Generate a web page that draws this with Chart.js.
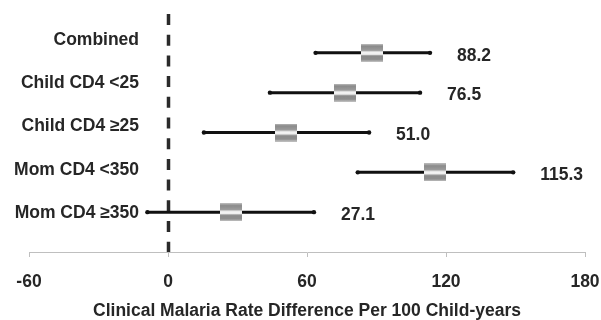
<!DOCTYPE html>
<html><head><meta charset="utf-8">
<script src="https://cdn.jsdelivr.net/npm/chart.js@4/dist/chart.umd.min.js"></script>
<style>html,body{margin:0;padding:0;background:#fff}#wrap{width:601px;height:320px}</style>
</head><body><div id="wrap"><canvas id="c" width="601" height="320"></canvas></div>
<script>
const categories = ['Combined', 'Child CD4 <25', 'Child CD4 \u226525', 'Mom CD4 <350', 'Mom CD4 \u2265350'];
const estimates = [88.2, 76.5, 51.0, 115.3, 27.1];
const lowerCI = [63.7, 44.0, 15.5, 81.9, -8.9];
const upperCI = [113.1, 108.8, 86.8, 149.0, 63.0];
const xTicks = [-60, 0, 60, 120, 180];
const xTitle = 'Clinical Malaria Rate Difference Per 100 Child-years';

const FONT = '"Liberation Sans", Arial, sans-serif';
const FSIZE = 17.5;
const TEXT = '#262626';
const n = categories.length;

function makeBox() {
  const c = document.createElement('canvas');
  c.width = 22; c.height = 18;
  const g = c.getContext('2d');
  const gr = g.createLinearGradient(0, 0, 0, 18);
  gr.addColorStop(0, '#c4c4c4');
  gr.addColorStop(0.12, '#8a8a8a');
  gr.addColorStop(0.36, '#9c9c9c');
  gr.addColorStop(0.45, '#f2f2f2');
  gr.addColorStop(0.58, '#f2f2f2');
  gr.addColorStop(0.66, '#8a8a8a');
  gr.addColorStop(0.88, '#8e8e8e');
  gr.addColorStop(1, '#c8c8c8');
  g.fillStyle = gr;
  g.fillRect(0, 0, 22, 18);
  return c;
}
const boxImg = makeBox();

const ciDatasets = categories.map((cat, i) => ({
  type: 'line',
  label: cat + ' CI',
  data: [{x: lowerCI[i], y: n - i}, {x: upperCI[i], y: n - i}],
  borderColor: '#111',
  borderWidth: 3,
  pointRadius: 2.2,
  pointBackgroundColor: '#111',
  pointBorderWidth: 0,
  showLine: true,
  order: 1
}));

const estDataset = {
  type: 'scatter',
  label: 'Estimate',
  data: estimates.map((v, i) => ({x: v, y: n - i})),
  pointStyle: boxImg,
  order: 0
};

const forestPlugin = {
  id: 'forest',
  beforeDatasetsDraw(chart) {
    const {ctx, chartArea, scales} = chart;
    const x0 = Math.round(scales.x.getPixelForValue(0)) + 0.5;
    ctx.save();
    ctx.strokeStyle = '#2a2a2a';
    ctx.lineWidth = 3.5;
    ctx.setLineDash([11, 9.7]);
    ctx.beginPath();
    ctx.moveTo(x0, chartArea.top + 1);
    ctx.lineTo(x0, chartArea.bottom);
    ctx.stroke();
    ctx.restore();
  },
  afterDatasetsDraw(chart) {
    const {ctx, scales} = chart;
    ctx.save();
    ctx.fillStyle = TEXT;
    ctx.font = 'bold ' + FSIZE + 'px ' + FONT;
    ctx.textBaseline = 'middle';
    ctx.textAlign = 'right';
    categories.forEach((cat, i) => {
      ctx.fillText(cat, scales.x.getPixelForValue(-12.5), scales.yLab.getPixelForValue(n - i));
    });
    ctx.textAlign = 'left';
    estimates.forEach((v, i) => {
      ctx.fillText(v.toFixed(1), scales.x.getPixelForValue(upperCI[i]) + 27, scales.y.getPixelForValue(n - i) + 3);
    });
    ctx.restore();
  }
};

new Chart(document.getElementById('c'), {
  type: 'scatter',
  data: {datasets: [estDataset, ...ciDatasets]},
  options: {
    responsive: false,
    animation: false,
    layout: {padding: {left: 29, right: 16, top: 13, bottom: 0}},
    plugins: {legend: {display: false}, tooltip: {enabled: false}},
    scales: {
      x: {
        type: 'linear',
        min: xTicks[0],
        max: xTicks[xTicks.length - 1],
        afterBuildTicks: s => { s.ticks = xTicks.map(v => ({value: v})); },
        afterFit: s => { s.paddingLeft = 0; s.paddingRight = 0; },
        grid: {display: true, drawOnChartArea: false, drawTicks: true, tickLength: 5, color: '#bfbfbf'},
        border: {display: true, color: '#bfbfbf', width: 1},
        ticks: {color: TEXT, font: {family: FONT, size: FSIZE, weight: 'bold'}, padding: 15, maxRotation: 0},
        title: {display: true, text: xTitle, color: TEXT, font: {family: FONT, size: FSIZE, weight: 'bold'}, padding: {top: -7, bottom: -2}}
      },
      y: {type: 'linear', display: false, min: 0, max: n + 1},
      yLab: {type: 'linear', display: false, min: 0.1, max: 5.62}
    }
  },
  plugins: [forestPlugin]
});
</script>
</body></html>
